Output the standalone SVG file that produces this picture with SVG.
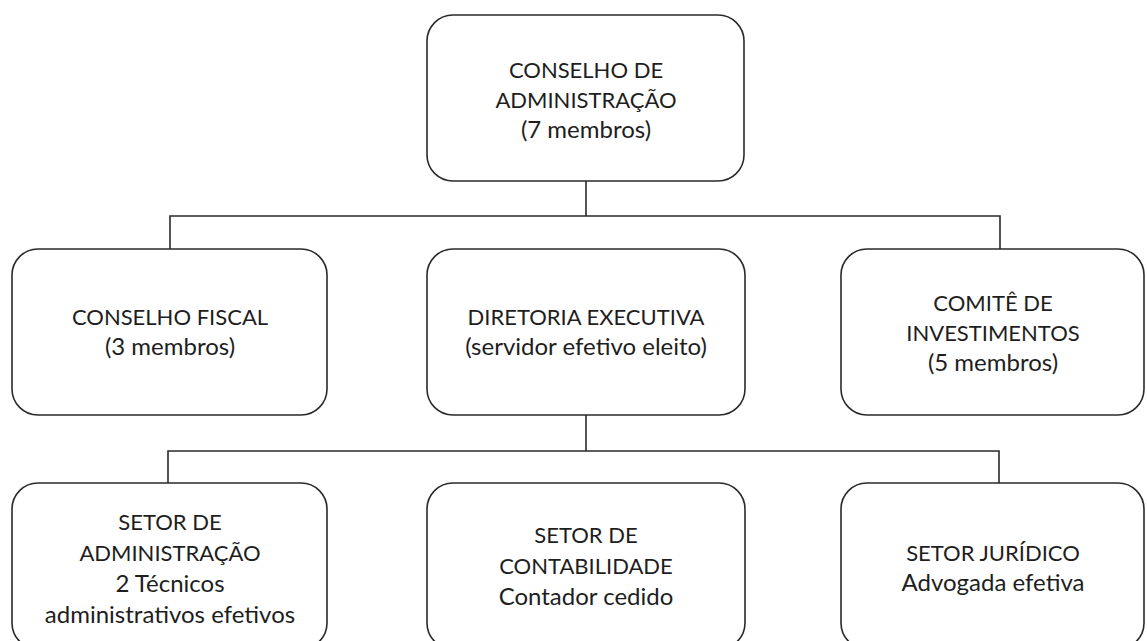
<svg xmlns="http://www.w3.org/2000/svg" width="1147" height="641" viewBox="0 0 1147 641">
<style>
.box{fill:#fff;stroke:#2a2a2a;stroke-width:1.6}
.conn{fill:none;stroke:#2a2a2a;stroke-width:1.6}
text{font-family:Lato,"Open Sans","Liberation Sans",sans-serif;font-size:22px;fill:#1e1e1e;text-anchor:middle}
text.lc{font-size:24px}
</style>
<rect width="1147" height="641" fill="#fff"/>
<g id="connectors">
<path class="conn" d="M586 181V216M170 249V216H1000V249M586 415V451M168 483V451H999V483"/>
</g>
<g id="conselho-adm">
<rect class="box" x="427" y="15" width="317" height="166" rx="26"/>
<text x="586" y="78">CONSELHO DE</text>
<text x="586" y="108">ADMINISTRAÇÃO</text>
<text class="lc" x="586" y="138">(7 membros)</text>
</g>
<g id="conselho-fiscal">
<rect class="box" x="12" y="249" width="315" height="166" rx="26"/>
<text x="170" y="325">CONSELHO FISCAL</text>
<text class="lc" x="170" y="355">(3 membros)</text>
</g>
<g id="diretoria">
<rect class="box" x="427" y="249" width="318" height="166" rx="26"/>
<text x="586" y="325">DIRETORIA EXECUTIVA</text>
<text class="lc" x="586" y="355">(servidor efetivo eleito)</text>
</g>
<g id="comite">
<rect class="box" x="841" y="249" width="303" height="166" rx="26"/>
<text x="993" y="311">COMITÊ DE</text>
<text x="993" y="341">INVESTIMENTOS</text>
<text class="lc" x="993" y="371">(5 membros)</text>
</g>
<g id="setor-adm">
<rect class="box" x="12" y="483" width="315" height="166" rx="26"/>
<text x="170" y="530">SETOR DE</text>
<text x="170" y="561">ADMINISTRAÇÃO</text>
<text class="lc" x="170" y="592">2 Técnicos</text>
<text class="lc" x="170" y="623">administrativos efetivos</text>
</g>
<g id="setor-cont">
<rect class="box" x="427" y="483" width="318" height="166" rx="26"/>
<text x="586" y="543">SETOR DE</text>
<text x="586" y="574">CONTABILIDADE</text>
<text class="lc" x="586" y="605">Contador cedido</text>
</g>
<g id="setor-jur">
<rect class="box" x="841" y="483" width="303" height="166" rx="26"/>
<text x="993" y="561">SETOR JURÍDICO</text>
<text class="lc" x="993" y="591">Advogada efetiva</text>
</g>
</svg>
